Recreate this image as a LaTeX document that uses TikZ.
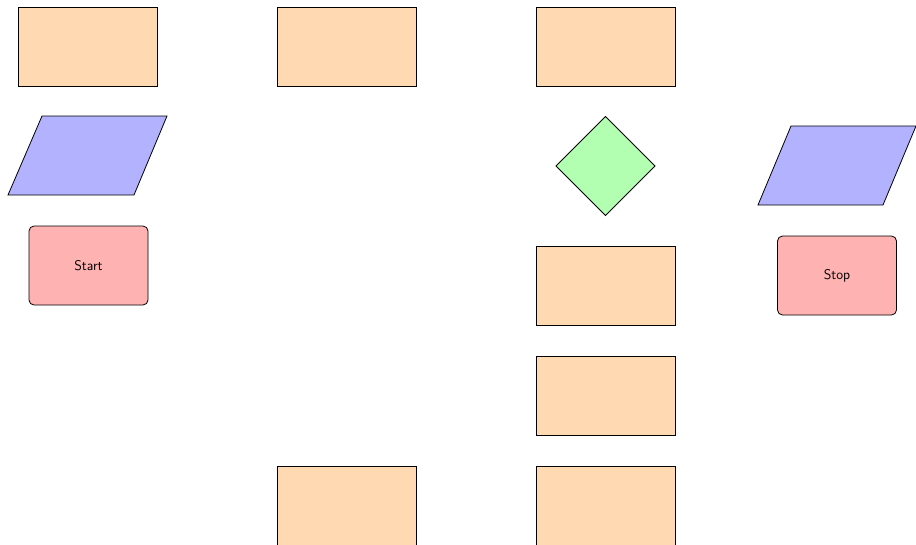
\documentclass[tikz,border=0pt]{standalone}
\usetikzlibrary{shapes.geometric}
\begin{document}
\begin{tikzpicture}[x=1pt,y=-1pt,
 base/.style={draw=black,line width=0.8pt,inner sep=0pt,outer sep=0pt,font=\sffamily\fontsize{14}{16}\selectfont},
 procbox/.style={base,rectangle,fill=orange!30,minimum width=139pt,minimum height=79pt},
 termbox/.style={base,rectangle,rounded corners=5pt,fill=red!30,minimum width=119pt,minimum height=79pt},
 decbox/.style={base,diamond,fill=green!30,minimum width=99pt,minimum height=99pt},
 iobox/.style={draw=black,line width=0.8pt,fill=blue!30}]
\useasboundingbox (0,0) rectangle (916,544);
\clip (0,0) rectangle (916,544);
\node[procbox] (p1) at (87.5,46.5) {};
\node[procbox] (p2) at (346.5,46.5) {};
\node[procbox] (p3) at (605.5,46.5) {};
\node[procbox] (p4) at (605.5,285.5) {};
\node[procbox] (p5) at (605.5,395.5) {};
\node[procbox] (p6) at (346.5,505.5) {};
\node[procbox] (p7) at (605.5,505.5) {};
\node[decbox] (d1) at (605.5,166) {};
\node[termbox] (start) at (88.5,265.5) {Start};
\node[termbox] (stop) at (837,275.5) {Stop};
\draw[iobox] (42,116) -- (167,116) -- (134,195) -- (8,195) -- cycle;
\draw[iobox] (791,126) -- (916,126) -- (883,205) -- (758,205) -- cycle;
\end{tikzpicture}
\end{document}
